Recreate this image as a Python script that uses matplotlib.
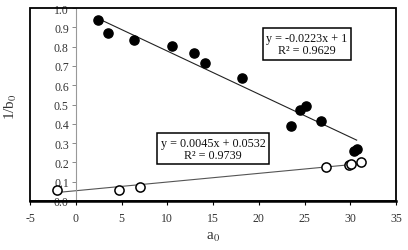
import matplotlib
matplotlib.use("Agg")
import matplotlib.pyplot as plt
from matplotlib.patches import Rectangle
import numpy as np

plt.rcParams['font.family'] = ['Liberation Serif', 'DejaVu Serif']
plt.rcParams['mathtext.fontset'] = 'stix'

# Filled series
filled_x = [2.44, 3.57, 6.34, 10.53, 12.93, 14.14, 18.2, 23.57, 24.5, 25.2, 26.85, 30.4, 30.7]
filled_y = [0.939, 0.872, 0.834, 0.805, 0.767, 0.715, 0.636, 0.39, 0.472, 0.492, 0.416, 0.261, 0.27]
# Open series
open_x = [-2.0, 4.7, 7.0, 27.3, 29.84, 30.05, 31.15]
open_y = [0.059, 0.059, 0.071, 0.174, 0.187, 0.19, 0.2]

# Trendline coefficients (from the chart labels)
fill_slope, fill_icpt = -0.0223, 1.0
open_slope, open_icpt = 0.0045, 0.0532
fill_label = "y = -0.0223x + 1\nR² = 0.9629"
open_label = "y = 0.0045x + 0.0532\nR² = 0.9739"

xticks = [-5, 0, 5, 10, 15, 20, 25, 30, 35]
yticks = [0.0, 0.1, 0.2, 0.3, 0.4, 0.5, 0.6, 0.7, 0.8, 0.9, 1.0]

fig = plt.figure(figsize=(4.08, 2.51), dpi=100)
ax = fig.add_axes([30/408, 1-202/251, 366/408, 193/251])
ax.set_xlim(-5, 35)
ax.set_ylim(0, 1)

tc = '#333333'
# trend lines
fx = np.array([min(filled_x), max(filled_x)])
ax.plot(fx, fill_slope*fx + fill_icpt, color='#222222', lw=0.8, zorder=2)
ox = np.array([min(open_x), max(open_x)])
ax.plot(ox, open_slope*ox + open_icpt, color='#555555', lw=0.8, zorder=2)

ax.plot(filled_x, filled_y, 'o', ms=6.6, mfc='black', mec='black', zorder=3)
ax.plot(open_x, open_y, 'o', ms=6.6, mfc='white', mec='black', mew=1.1, zorder=3)

# spines
for s in ['top', 'right']:
    ax.spines[s].set_visible(False)
ax.spines['left'].set_position(('data', 0))
ax.spines['left'].set_color('#999999')
ax.spines['left'].set_linewidth(0.8)
ax.spines['bottom'].set_linewidth(1.8)
ax.spines['bottom'].set_color('black')
ax.add_patch(Rectangle((0, 0), 1, 1, transform=ax.transAxes, fill=False,
                       lw=1.3, ec='black', zorder=5, clip_on=False))

ax.set_xticks(xticks)
ax.set_xticklabels([str(t) for t in xticks])
ax.set_yticks(yticks)
ax.set_yticklabels([f"{t:.1f}" for t in yticks])
ax.tick_params(axis='y', direction='out', length=3, width=0.6, color='#777777',
               labelsize=8.5, labelcolor=tc, pad=2)
ax.tick_params(axis='x', direction='out', length=3, width=0.8, color='black',
               labelsize=8.5, labelcolor=tc, pad=5)

ax.text(25.25, 0.813, fill_label, ha='center', va='center', fontsize=8.7,
        color='#111111', linespacing=1.0,
        bbox=dict(boxstyle='square,pad=0.3', fc='white', ec='black', lw=1.1), zorder=6)
ax.text(15.0, 0.272, open_label, ha='center', va='center', fontsize=8.7,
        color='#111111', linespacing=1.0,
        bbox=dict(boxstyle='square,pad=0.3', fc='white', ec='black', lw=1.1), zorder=6)

fig.text(213/408, 1-237/251, r'a$_0$', ha='center', va='center', fontsize=11, color=tc)
fig.text(11/408, 1-107/251, r'1/b$_0$', ha='center', va='center', fontsize=11,
         rotation=90, color=tc)

fig.savefig('out.png', dpi=100)
